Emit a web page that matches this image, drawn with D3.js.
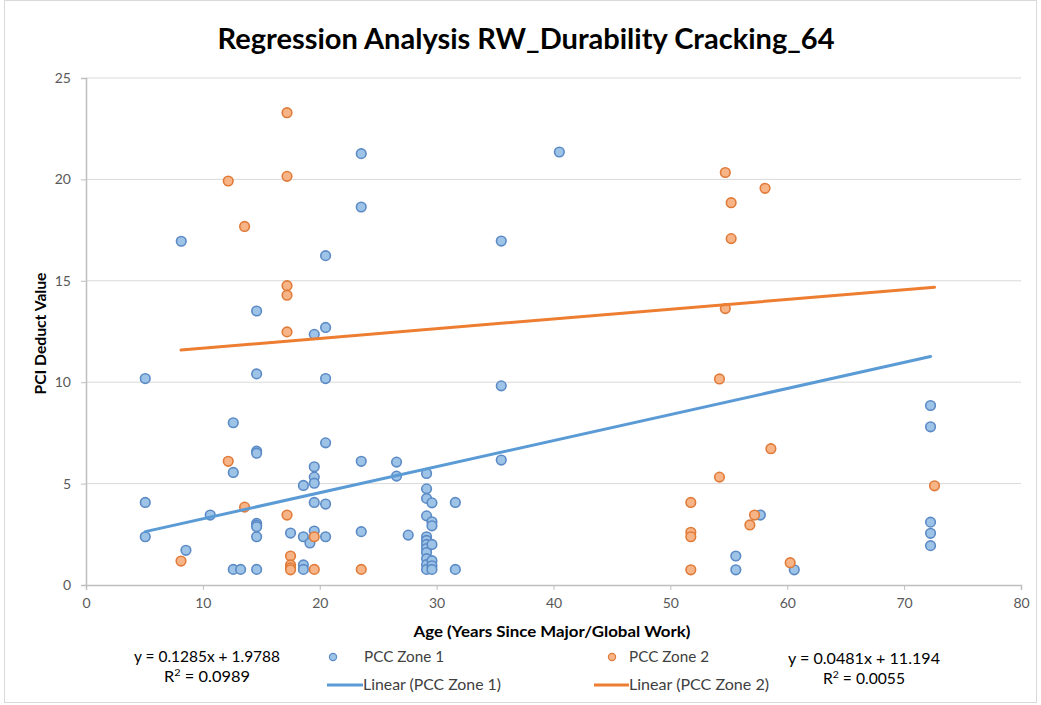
<!DOCTYPE html>
<html>
<head>
<meta charset="utf-8">
<script src="https://cdn.jsdelivr.net/npm/d3@7/dist/d3.min.js"></script>
<style>
  html, body { margin: 0; padding: 0; background: #fff; }
  svg { display: block; }
  text { font-family: Lato, "Open Sans", sans-serif; }
</style>
</head>
<body>
<svg id="chart" width="1041" height="705"></svg>
<script>
// PCC Zone 1: age (years) and PCI deduct value
const zone1Age = [
  5.07, 5.07, 5.07,
  8.15, 8.55, 10.63,
  12.6, 12.6, 12.6, 13.23,
  14.6, 14.6, 14.6, 14.6, 14.6, 14.6, 14.6, 14.6, 14.6,
  17.5,
  18.6, 18.6, 18.6, 18.6, 19.16,
  19.53, 19.53, 19.53, 19.53, 19.53, 19.53,
  20.5, 20.5, 20.5, 20.5, 20.5, 20.5,
  23.55, 23.55, 23.55, 23.55,
  26.57, 26.57, 27.57,
  29.14, 29.14, 29.14, 29.14, 29.14, 29.14, 29.14, 29.14, 29.14, 29.14, 29.14, 29.14,
  29.6, 29.6, 29.6, 29.6, 29.6, 29.6, 29.6,
  31.6, 31.6,
  35.53, 35.53, 35.53,
  40.5,
  55.6, 55.6, 57.7, 60.6,
  72.26, 72.26, 72.26, 72.26, 72.26
];
const zone1Deduct = [
  10.18, 4.07, 2.38,
  16.95, 1.71, 3.45,
  8.0, 5.55, 0.77, 0.77,
  13.51, 10.41, 6.6, 6.5, 3.04, 2.95, 2.87, 2.38, 0.77,
  2.56,
  4.91, 2.38, 0.99, 0.77, 2.07,
  12.36, 5.83, 5.32, 5.02, 4.07, 2.66,
  16.24, 12.7, 10.18, 7.01, 3.99, 2.38,
  21.27, 18.64, 6.1, 2.63,
  6.06, 5.37, 2.46,
  5.5, 4.74, 4.27, 3.41, 2.38, 2.2, 2.0, 1.8, 1.6, 1.3, 1.0, 0.77,
  4.05, 3.12, 2.92, 2.0, 1.2, 0.95, 0.77,
  4.07, 0.77,
  16.96, 9.82, 6.16,
  21.35,
  1.43, 0.75, 3.45, 0.75,
  8.85, 7.8, 3.1, 2.55, 1.94
];

// PCC Zone 2: age (years) and PCI deduct value
const zone2Age = [
  8.13,
  12.17, 12.17,
  13.57, 13.57,
  17.2, 17.2, 17.2, 17.2, 17.2, 17.2,
  17.5, 17.5, 17.5, 17.5,
  19.53, 19.53, 23.55,
  51.75, 51.75, 51.75, 51.75,
  54.2, 54.2, 54.7, 54.7, 55.2, 55.2,
  56.8, 57.2, 58.1, 58.6, 60.25, 72.6
];
const zone2Deduct = [
  1.18,
  19.92, 6.1,
  17.68, 3.84,
  23.29, 20.15, 14.76, 14.29, 12.48, 3.45,
  1.43, 0.99, 0.85, 0.75,
  2.38, 0.77, 0.77,
  4.07, 2.6, 2.38, 0.75,
  10.16, 5.32, 20.34, 13.63, 18.85, 17.08,
  2.96, 3.45, 19.56, 6.72, 1.1, 4.89
];

// Linear trendline coefficients (slope, intercept, R²)
const zone1Fit = [0.1285, 1.9788, 0.0989];
const zone2Fit = [0.0481, 11.194, 0.0055];

// Axis ticks
const xTicks = [0, 10, 20, 30, 40, 50, 60, 70, 80];
const yTicks = [0, 5, 10, 15, 20, 25];

const titleText = "Regression Analysis RW_Durability Cracking_64";
const xTitle = "Age (Years Since Major/Global Work)";
const yTitle = "PCI Deduct Value";
const seriesNames = ["PCC Zone 1", "PCC Zone 2"];

const svg = d3.select("#chart");
const plot = { left: 86, right: 1021, top: 78, bottom: 585 };

const x = d3.scaleLinear().domain([0, 80]).range([plot.left, plot.right]);
const y = d3.scaleLinear().domain([0, 25]).range([plot.bottom, plot.top]);

const blue = { fill: "#9dc3e6", stroke: "#5b8ac6", line: "#5b9bd5" };
const orange = { fill: "#f7b487", stroke: "#e07b39", line: "#ed7d31" };

// Chart frame
svg.append("rect")
  .attr("x", 4.5).attr("y", 0.5).attr("width", 1032).attr("height", 702)
  .attr("fill", "#fff").attr("stroke", "#d9d9d9");

// Title
svg.append("text")
  .attr("x", 526).attr("y", 49)
  .attr("text-anchor", "middle")
  .attr("font-size", 28).attr("font-weight", "bold").attr("fill", "#000")
  .attr("textLength", 617).attr("lengthAdjust", "spacingAndGlyphs")
  .text(titleText);

// Horizontal gridlines
svg.append("g")
  .selectAll("line")
  .data(yTicks.filter(d => d > 0))
  .join("line")
  .attr("x1", plot.left).attr("x2", plot.right)
  .attr("y1", d => y(d)).attr("y2", d => y(d))
  .attr("stroke", "#d9d9d9").attr("stroke-width", 1);

// Y axis
const yAxis = svg.append("g")
  .attr("transform", `translate(${plot.left},0)`)
  .call(d3.axisLeft(y).tickValues(yTicks).tickSize(5).tickPadding(10));
// X axis
const xAxis = svg.append("g")
  .attr("transform", `translate(0,${plot.bottom})`)
  .call(d3.axisBottom(x).tickValues(xTicks).tickSize(5).tickPadding(8));

[yAxis, xAxis].forEach(g => {
  g.select(".domain").attr("stroke", "#bfbfbf").attr("stroke-width", 1.5);
  g.selectAll(".tick line").attr("stroke", "#bfbfbf");
  g.selectAll(".tick text")
    .attr("fill", "#595959")
    .attr("font-size", 14)
    .attr("font-family", "Lato, 'Open Sans', sans-serif");
});

// Axis titles
svg.append("text")
  .attr("transform", `translate(46,${(plot.top + plot.bottom) / 2 + 2}) rotate(-90)`)
  .attr("text-anchor", "middle")
  .attr("font-size", 15).attr("font-weight", "bold").attr("fill", "#000")
  .attr("textLength", 122).attr("lengthAdjust", "spacingAndGlyphs")
  .text(yTitle);

svg.append("text")
  .attr("x", 552).attr("y", 637)
  .attr("text-anchor", "middle")
  .attr("font-size", 15).attr("font-weight", "bold").attr("fill", "#000")
  .attr("textLength", 277).attr("lengthAdjust", "spacingAndGlyphs")
  .text(xTitle);

// Scatter points
function drawPoints(ages, values, col) {
  svg.append("g")
    .selectAll("circle")
    .data(ages.map((a, i) => [a, values[i]]))
    .join("circle")
    .attr("cx", d => x(d[0]))
    .attr("cy", d => y(d[1]))
    .attr("r", 4.8)
    .attr("fill", col.fill)
    .attr("stroke", col.stroke)
    .attr("stroke-width", 1.6);
}
drawPoints(zone1Age, zone1Deduct, blue);
drawPoints(zone2Age, zone2Deduct, orange);

// Linear trendlines across each series' age range
function drawTrend(ages, fit, col) {
  const x0 = d3.min(ages), x1 = d3.max(ages);
  svg.append("line")
    .attr("x1", x(x0)).attr("y1", y(fit[0] * x0 + fit[1]))
    .attr("x2", x(x1)).attr("y2", y(fit[0] * x1 + fit[1]))
    .attr("stroke", col.line).attr("stroke-width", 3)
    .attr("stroke-linecap", "round");
}
drawTrend(zone1Age, zone1Fit, blue);
drawTrend(zone2Age, zone2Fit, orange);

// Trendline equations
function equation(cx, cyTop, fit, w1, w2) {
  const g = svg.append("g").attr("fill", "#000").attr("font-size", 15);
  g.append("text")
    .attr("x", cx).attr("y", cyTop).attr("text-anchor", "middle")
    .attr("textLength", w1).attr("lengthAdjust", "spacingAndGlyphs")
    .text(`y = ${fit[0]}x + ${fit[1]}`);
  const r = g.append("text")
    .attr("x", cx).attr("y", cyTop + 20).attr("text-anchor", "middle")
    .attr("textLength", w2).attr("lengthAdjust", "spacingAndGlyphs");
  r.append("tspan").text("R");
  r.append("tspan").attr("baseline-shift", "super").attr("font-size", 10).text("2");
  r.append("tspan").text(` = ${fit[2].toFixed(4)}`);
}
equation(207, 662, zone1Fit, 146, 86);
equation(864, 664, zone2Fit, 152, 82);

// Legend
const legend = svg.append("g").attr("font-size", 15).attr("fill", "#404040");
const legendItems = [
  { kind: "dot", col: blue, cx: 333, cy: 657, tx: 364, label: seriesNames[0], w: 80 },
  { kind: "dot", col: orange, cx: 612, cy: 657, tx: 629, label: seriesNames[1], w: 80 },
  { kind: "line", col: blue, x0: 327, x1: 363, cy: 685, tx: 363, label: `Linear (${seriesNames[0]})`, w: 138 },
  { kind: "line", col: orange, x0: 594, x1: 629, cy: 685, tx: 629, label: `Linear (${seriesNames[1]})`, w: 140 }
];
legendItems.forEach(it => {
  if (it.kind === "dot") {
    legend.append("circle")
      .attr("cx", it.cx).attr("cy", it.cy).attr("r", 3.6)
      .attr("fill", it.col.fill).attr("stroke", it.col.stroke).attr("stroke-width", 1.2);
  } else {
    legend.append("line")
      .attr("x1", it.x0).attr("x2", it.x1).attr("y1", it.cy).attr("y2", it.cy)
      .attr("stroke", it.col.line).attr("stroke-width", 3);
  }
  legend.append("text")
    .attr("x", it.tx).attr("y", it.cy + 5)
    .attr("fill", "#404040")
    .attr("textLength", it.w).attr("lengthAdjust", "spacingAndGlyphs")
    .text(it.label);
});
</script>
</body>
</html>
